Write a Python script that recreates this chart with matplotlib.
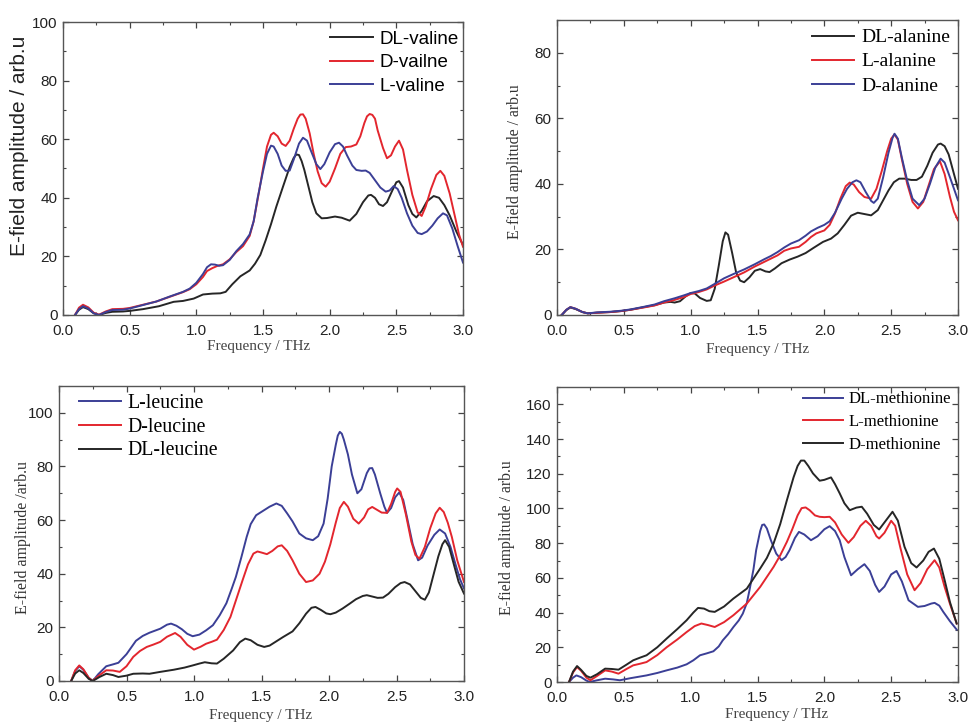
import matplotlib
matplotlib.use("Agg")
import matplotlib.pyplot as plt
from matplotlib.ticker import MultipleLocator, FormatStrFormatter

# ---------------- valine ----------------
valine_dl_f = [0.09, 0.12, 0.15, 0.19, 0.23, 0.27, 0.32, 0.37, 0.45, 0.5, 0.6, 0.72, 0.83, 0.9, 0.98,
               1.05, 1.12, 1.18, 1.22, 1.27, 1.33, 1.4, 1.44, 1.48, 1.52, 1.56, 1.6, 1.65, 1.7, 1.73,
               1.75, 1.77, 1.79, 1.81, 1.84, 1.87, 1.9, 1.94, 1.98, 2.04, 2.09, 2.15, 2.2, 2.25, 2.29,
               2.31, 2.34, 2.37, 2.4, 2.43, 2.47, 2.5, 2.52, 2.55, 2.59, 2.62, 2.65, 2.69, 2.73, 2.78,
               2.82, 2.86, 2.9, 2.95, 3.0]
valine_dl = [0, 1.8, 2.7, 2.0, 0.6, 0, 0.7, 1.1, 1.2, 1.4, 2.0, 3.0, 4.5, 4.8, 5.6,
             7.0, 7.3, 7.4, 7.9, 10.5, 13.2, 15.2, 17.5, 20.5, 25.5, 31, 37, 43.8, 50.5, 53.6,
             54.8, 54.6, 52.5, 49.5, 44, 38.5, 34.7, 33.0, 33.1, 33.6, 33.2, 32.2, 34.5, 38.5, 40.8,
             41, 40, 37.8, 37.2, 38.5, 42.5, 45.3, 45.7, 43.5, 37.5, 34.5, 33.3, 35.5, 38.8, 40.6,
             40, 37.5, 34, 28.5, 23.9]

valine_d_f = [0.09, 0.12, 0.15, 0.19, 0.23, 0.27, 0.32, 0.37, 0.45, 0.5, 0.6, 0.7, 0.8, 0.9, 0.95,
              1.0, 1.05, 1.08, 1.12, 1.16, 1.2, 1.25, 1.3, 1.35, 1.4, 1.43, 1.47, 1.5, 1.53, 1.56,
              1.58, 1.61, 1.64, 1.67, 1.7, 1.73, 1.76, 1.78, 1.8, 1.82, 1.85, 1.88, 1.91, 1.94, 1.97,
              2.0, 2.04, 2.08, 2.12, 2.16, 2.2, 2.23, 2.26, 2.28, 2.3, 2.32, 2.34, 2.36, 2.4, 2.43,
              2.46, 2.49, 2.52, 2.55, 2.58, 2.62, 2.66, 2.69, 2.72, 2.76, 2.8, 2.83, 2.86, 2.9, 2.94,
              2.97, 3.0]
valine_d = [0, 2.5, 3.5, 2.6, 0.8, 0.1, 1.2, 2.0, 2.1, 2.4, 3.5, 4.6, 6.2, 7.8, 8.8,
            10.5, 13.0, 15.0, 16.0, 16.8, 17.3, 19.0, 21.5, 23.5, 27, 32, 42, 50, 57.5, 61.5,
            62.2, 61, 58.5, 57.7, 59.5, 63.5, 67, 68.4, 68.5, 67, 62, 55, 49, 45, 43.8,
            45.5, 50, 55, 57.3, 57.5, 58.2, 61, 65.5, 67.8, 68.6, 68.3, 67, 63, 57, 53.5,
            54.5, 57.5, 59.5, 56.5, 49.5, 41, 35, 33.8, 37, 43, 47.8, 49.2, 47.5, 41.5, 33.5,
            27.5, 23.3]

valine_l_f = [0.09, 0.12, 0.15, 0.19, 0.23, 0.27, 0.32, 0.37, 0.45, 0.5, 0.6, 0.7, 0.8, 0.9, 0.95,
              1.0, 1.05, 1.08, 1.11, 1.14, 1.17, 1.2, 1.25, 1.3, 1.35, 1.4, 1.43, 1.46, 1.5, 1.53,
              1.56, 1.58, 1.61, 1.64, 1.67, 1.7, 1.73, 1.77, 1.8, 1.83, 1.86, 1.9, 1.93, 1.96, 2.0,
              2.04, 2.07, 2.1, 2.13, 2.17, 2.2, 2.24, 2.27, 2.3, 2.34, 2.38, 2.42, 2.45, 2.48, 2.51,
              2.54, 2.58, 2.62, 2.66, 2.69, 2.73, 2.77, 2.81, 2.85, 2.88, 2.92, 2.96, 3.0]
valine_l = [0, 2, 3.0, 2.2, 0.6, 0, 1.0, 1.7, 1.8, 2.2, 3.4, 4.6, 6.3, 7.9, 9.0,
            11, 14, 16.3, 17.3, 17.2, 16.8, 17.0, 18.8, 21.8, 24.2, 27.5, 32, 40, 49, 55,
            57.8, 57.5, 55, 51, 49.2, 49.3, 53, 58.5, 60.5, 59.5, 56, 51.5, 49.8, 51.5, 55.5,
            58.3, 58.8, 57.5, 54.5, 51, 49.5, 49.2, 49.3, 48.5, 46, 43.5, 42.1, 42.5, 44, 43,
            40, 34.7, 30.5, 28, 27.6, 28.5, 30.5, 33, 34.7, 34, 29.5, 23.5, 17.9]

# ---------------- alanine ----------------
alanine_dl_f = [0.035, 0.07, 0.1, 0.14, 0.19, 0.23, 0.3, 0.4, 0.48, 0.55, 0.65, 0.73, 0.8, 0.85, 0.88,
                0.92, 0.96, 1.0, 1.03, 1.07, 1.12, 1.15, 1.18, 1.21, 1.24, 1.26, 1.28, 1.31, 1.34, 1.37,
                1.4, 1.44, 1.48, 1.52, 1.56, 1.59, 1.63, 1.68, 1.74, 1.8, 1.86, 1.92, 1.99, 2.05, 2.1,
                2.15, 2.2, 2.25, 2.3, 2.35, 2.4, 2.44, 2.48, 2.52, 2.56, 2.6, 2.65, 2.69, 2.73, 2.77,
                2.81, 2.85, 2.87, 2.9, 2.93, 2.96, 3.0]
alanine_dl = [0, 1.5, 2.3, 1.8, 0.9, 0.5, 0.7, 0.9, 1.2, 1.6, 2.4, 3.0, 3.8, 4.0, 3.8,
              4.2, 5.6, 6.7, 6.6, 5.2, 4.3, 4.5, 8, 15, 22.5, 25.2, 24.5, 19, 13, 10.5,
              10, 11.5, 13.5, 14.0, 13.3, 13.1, 14.2, 15.8, 16.9, 17.8, 18.9, 20.5, 22.3, 23.3, 24.9,
              27.5, 30.3, 31.2, 30.8, 30.4, 32, 35, 38, 40.5, 41.6, 41.6, 41.2, 41.2, 42.2, 45.5,
              49.5, 52, 52.3, 51.5, 49, 44.5, 38.5]

alanine_l_f = [0.035, 0.07, 0.1, 0.14, 0.19, 0.23, 0.3, 0.4, 0.48, 0.55, 0.65, 0.73, 0.8, 0.88, 0.95,
               1.0, 1.06, 1.12, 1.18, 1.25, 1.32, 1.4, 1.48, 1.55, 1.6, 1.65, 1.7, 1.75, 1.81, 1.86,
               1.9, 1.94, 2.0, 2.04, 2.08, 2.12, 2.16, 2.19, 2.22, 2.26, 2.3, 2.35, 2.39, 2.43, 2.47,
               2.5, 2.525, 2.55, 2.58, 2.62, 2.66, 2.7, 2.74, 2.78, 2.82, 2.865, 2.9, 2.94, 2.97, 3.0]
alanine_l = [0, 1.6, 2.4, 1.9, 0.9, 0.5, 0.7, 0.9, 1.2, 1.6, 2.3, 2.9, 3.8, 4.6, 5.5,
             6.4, 7.0, 7.8, 9.0, 10.2, 11.5, 13.0, 14.8, 16.2, 17.2, 18.2, 19.6, 20.3, 20.8, 22.3,
             23.8, 24.9, 25.8, 27.5, 31, 35.5, 39.3, 40.4, 39.8, 37.5, 36, 35.5, 38.5, 44, 50,
             53.8, 55.1, 53.5, 47.5, 40, 34.5, 32.5, 34.5, 39.5, 44.5, 46.9, 43, 36, 31.5, 28.9]

alanine_d_f = [0.035, 0.07, 0.1, 0.14, 0.19, 0.23, 0.3, 0.4, 0.48, 0.55, 0.65, 0.73, 0.8, 0.88, 0.95,
               1.0, 1.06, 1.12, 1.18, 1.25, 1.32, 1.4, 1.48, 1.55, 1.6, 1.65, 1.7, 1.75, 1.81, 1.86,
               1.9, 1.95, 2.0, 2.04, 2.08, 2.13, 2.17, 2.21, 2.24, 2.27, 2.31, 2.35, 2.37, 2.4, 2.44,
               2.48, 2.51, 2.525, 2.55, 2.58, 2.62, 2.66, 2.71, 2.75, 2.79, 2.83, 2.87, 2.9, 2.94, 2.97,
               3.0]
alanine_d = [0, 1.6, 2.4, 1.9, 0.9, 0.5, 0.8, 1.0, 1.3, 1.7, 2.5, 3.2, 4.2, 5.1, 6.0,
             6.7, 7.3, 8.1, 9.5, 11.2, 12.5, 13.9, 15.5, 17.0, 18.0, 19.2, 20.6, 21.8, 22.8, 24.2,
             25.5, 26.6, 27.5, 28.6, 31.2, 35.5, 38.5, 40.5, 41.1, 40.5, 37.5, 34.8, 34.2, 35.5, 42,
             49.5, 54, 55.3, 53.8, 48, 41, 35.5, 33.5, 35.5, 40, 45, 47.7, 46.5, 42, 38.5,
             35]

# ---------------- leucine ----------------
leucine_l_f = [0.09, 0.12, 0.15, 0.18, 0.22, 0.25, 0.29, 0.35, 0.4, 0.44, 0.5, 0.57, 0.62, 0.67, 0.75,
               0.8, 0.83, 0.87, 0.91, 0.95, 0.99, 1.04, 1.09, 1.14, 1.19, 1.24, 1.28, 1.31, 1.35, 1.39,
               1.42, 1.46, 1.51, 1.56, 1.61, 1.65, 1.69, 1.73, 1.78, 1.83, 1.88, 1.92, 1.96, 1.99, 2.02,
               2.05, 2.065, 2.08, 2.095, 2.11, 2.14, 2.17, 2.21, 2.24, 2.28, 2.3, 2.32, 2.34, 2.38, 2.41,
               2.43, 2.46, 2.49, 2.52, 2.55, 2.58, 2.62, 2.66, 2.69, 2.73, 2.78, 2.82, 2.86, 2.9, 2.94,
               2.97, 3.0]
leucine_l = [0, 3.8, 5.5, 4.2, 1.2, 0, 2.5, 5.5, 6.2, 6.8, 10, 15, 16.8, 18, 19.5,
             21.0, 21.4, 20.6, 19.3, 17.6, 16.7, 17.3, 18.9, 20.8, 24.5, 29, 34.5, 38.8, 46, 53.7,
             58.5, 61.8, 63.4, 65, 66.2, 65.3, 62.5, 59.5, 55, 53.2, 52.5, 54, 58.7, 68, 80,
             88, 91.5, 92.9, 92.2, 90, 84.5, 77, 70, 71.5, 77.5, 79.3, 79.4, 77, 69.9, 65,
             62.7, 64.5, 68.5, 70.3, 67.5, 60.5, 51, 45, 46, 50.5, 54.5, 56.5, 55, 50, 43,
             38, 34.5]

leucine_d_f = [0.09, 0.12, 0.15, 0.18, 0.22, 0.25, 0.29, 0.35, 0.4, 0.45, 0.5, 0.55, 0.6, 0.65, 0.7,
               0.75, 0.8, 0.86, 0.9, 0.95, 1.0, 1.05, 1.09, 1.13, 1.17, 1.22, 1.27, 1.31, 1.36, 1.4,
               1.44, 1.47, 1.5, 1.54, 1.58, 1.62, 1.65, 1.69, 1.73, 1.78, 1.83, 1.88, 1.93, 1.97, 2.01,
               2.05, 2.08, 2.11, 2.14, 2.18, 2.22, 2.26, 2.29, 2.32, 2.35, 2.39, 2.43, 2.46, 2.49, 2.505,
               2.53, 2.57, 2.61, 2.64, 2.67, 2.71, 2.75, 2.79, 2.82, 2.85, 2.88, 2.91, 2.95, 3.0]
leucine_d = [0, 4, 5.8, 4.4, 1.2, 0, 1.8, 4, 3.9, 3.4, 5.5, 9, 11.2, 12.7, 13.6,
             14.6, 16.5, 17.9, 16.5, 13.5, 11.7, 12.8, 13.9, 14.6, 15.4, 19, 23.9, 30, 37.6, 43.5,
             47.5, 48.3, 47.9, 47.3, 48.5, 50.2, 50.6, 48.5, 45, 40, 36.9, 37.5, 40, 44.5, 51,
             59, 64.5, 66.8, 65, 60.5, 58.7, 61, 64, 64.9, 64, 62.8, 62.7, 66, 70.5, 71.8,
             70.5, 62, 52, 47, 45.6, 50, 57, 62.5, 64.6, 63, 59, 53.7, 45, 36.9]

leucine_dl_f = [0.09, 0.12, 0.15, 0.18, 0.22, 0.25, 0.3, 0.35, 0.4, 0.44, 0.5, 0.55, 0.62, 0.67, 0.75,
                0.85, 0.93, 0.99, 1.04, 1.08, 1.13, 1.17, 1.22, 1.29, 1.34, 1.38, 1.42, 1.47, 1.52, 1.56,
                1.61, 1.66, 1.73, 1.78, 1.83, 1.87, 1.9, 1.94, 1.98, 2.01, 2.05, 2.1, 2.155, 2.2, 2.25,
                2.28, 2.32, 2.36, 2.4, 2.44, 2.49, 2.53, 2.56, 2.6, 2.64, 2.68, 2.71, 2.74, 2.77, 2.81,
                2.84, 2.86, 2.89, 2.93, 2.96, 3.0]
leucine_dl = [0, 2.8, 4, 3.0, 0.8, 0, 1.5, 2.7, 2.2, 1.5, 2.0, 2.7, 2.8, 2.7, 3.4,
              4.2, 5.0, 5.8, 6.5, 7.0, 6.6, 6.5, 8.3, 11.4, 14.5, 15.8, 15.2, 13.5, 12.7, 13.2,
              14.8, 16.4, 18.5, 21.5, 25.1, 27.3, 27.6, 26.5, 25.2, 24.9, 25.5, 27, 28.9, 30.5, 31.7,
              32, 31.5, 31.0, 31.1, 32.5, 35, 36.5, 36.9, 36, 33.5, 31, 30.3, 33, 38.8, 46.5,
              51, 52.5, 50, 42.5, 37, 32.6]

# ---------------- methionine ----------------
methionine_dl_f = [0.09, 0.12, 0.145, 0.18, 0.22, 0.245, 0.3, 0.36, 0.42, 0.47, 0.55, 0.67, 0.75, 0.82, 0.9,
                   0.97, 1.02, 1.07, 1.12, 1.17, 1.21, 1.24, 1.28, 1.32, 1.36, 1.39, 1.42, 1.44, 1.47, 1.49,
                   1.52, 1.535, 1.55, 1.57, 1.6, 1.64, 1.68, 1.71, 1.74, 1.78, 1.81, 1.85, 1.9, 1.95, 2.0,
                   2.04, 2.08, 2.115, 2.15, 2.2, 2.25, 2.3, 2.34, 2.38, 2.41, 2.45, 2.5, 2.54, 2.58, 2.63,
                   2.7, 2.75, 2.8, 2.825, 2.86, 2.89, 2.94, 2.99]
methionine_dl = [0, 2.5, 3.8, 2.8, 0.8, 0, 1.0, 1.9, 1.5, 1.0, 2.2, 3.8, 5.2, 6.7, 8.3,
                 10.2, 12.5, 15.4, 16.5, 17.7, 20.5, 24, 27.5, 31.7, 35.5, 39.4, 45.5, 52.9, 65, 76,
                 87, 90.5, 90.8, 88.5, 81.7, 74, 70.2, 72, 76, 83, 86.5, 85, 81.7, 84, 88,
                 89.8, 87, 81.7, 72, 61.5, 65, 67.9, 64, 56, 51.9, 55, 62, 64, 58, 47.1,
                 43.3, 43.8, 45.2, 45.6, 44, 40.4, 35, 30.2]

methionine_l_f = [0.09, 0.12, 0.15, 0.18, 0.22, 0.25, 0.3, 0.36, 0.41, 0.46, 0.52, 0.57, 0.62, 0.67, 0.75,
                  0.82, 0.9, 0.97, 1.03, 1.08, 1.13, 1.18, 1.25, 1.32, 1.42, 1.52, 1.62, 1.67, 1.72, 1.76,
                  1.8, 1.83, 1.86, 1.89, 1.93, 1.965, 2.0, 2.04, 2.08, 2.13, 2.18, 2.22, 2.27, 2.31, 2.35,
                  2.39, 2.41, 2.45, 2.5, 2.53, 2.57, 2.62, 2.675, 2.72, 2.77, 2.825, 2.86, 2.9, 2.94, 2.99]
methionine_l = [0, 5.5, 8.6, 6.5, 2.5, 1.0, 3.5, 6.7, 6.0, 4.8, 7.5, 9.6, 10.5, 11.5, 15.5,
                20, 24.5, 28.8, 32.2, 33.7, 32.8, 31.7, 34.5, 38.5, 45.2, 54.8, 66.3, 73, 80.8, 88,
                96, 100.2, 100.6, 99, 96, 95.2, 95, 95.2, 92, 85, 80.2, 83.5, 90, 92.9, 90,
                84, 82.7, 86, 92.9, 90, 77, 62, 52.9, 57, 65, 70.2, 66, 54.8, 45, 33.7]

methionine_d_f = [0.09, 0.12, 0.15, 0.18, 0.22, 0.25, 0.3, 0.36, 0.41, 0.46, 0.52, 0.57, 0.62, 0.67, 0.75,
                  0.82, 0.9, 0.97, 1.02, 1.055, 1.1, 1.14, 1.18, 1.25, 1.32, 1.42, 1.52, 1.57, 1.62, 1.67,
                  1.72, 1.77, 1.8, 1.825, 1.85, 1.88, 1.915, 1.965, 2.0, 2.05, 2.08, 2.115, 2.15, 2.19, 2.24,
                  2.28, 2.32, 2.37, 2.41, 2.46, 2.51, 2.55, 2.6, 2.65, 2.69, 2.74, 2.78, 2.82, 2.86, 2.9,
                  2.94, 2.99]
methionine_d = [0, 6, 9.2, 7.0, 3.5, 2.5, 4.5, 7.7, 7.5, 7.1, 10, 12.5, 14, 15.4, 20,
                25, 30.5, 35.6, 40, 42.7, 42.3, 40.8, 40.4, 43.5, 48.1, 53.8, 65.4, 71.5, 79.8, 91,
                104.8, 118, 124.5, 127.6, 127.6, 124.5, 120.2, 116, 116.5, 117.9, 114, 108.7, 103, 99, 100.5,
                101, 97, 90.5, 87.9, 93, 98.1, 93, 77.9, 68.5, 66, 70, 75, 76.9, 71, 58.7,
                46, 33.7]

BLACK = "#262626"
RED = "#e3262e"
BLUE = "#3b3f96"

SANS = ["Liberation Sans", "DejaVu Sans"]
SERIF = ["Liberation Serif", "DejaVu Serif"]

W, H = 969, 722
fig = plt.figure(figsize=(W / 100, H / 100), dpi=100)


def px_axes(left, top, right, bottom):
    return fig.add_axes([left / W, 1 - bottom / H, (right - left) / W, (bottom - top) / H])


def style(ax, ymax, ymajor, yminor):
    ax.set_xlim(0, 3.0)
    ax.set_ylim(0, ymax)
    ax.xaxis.set_major_locator(MultipleLocator(0.5))
    ax.xaxis.set_minor_locator(MultipleLocator(0.25))
    ax.yaxis.set_major_locator(MultipleLocator(ymajor))
    ax.yaxis.set_minor_locator(MultipleLocator(yminor))
    ax.xaxis.set_major_formatter(FormatStrFormatter("%.1f"))
    ax.yaxis.set_major_formatter(FormatStrFormatter("%d"))
    ax.tick_params(which="both", direction="in", top=True, right=True, colors="#444444",
                   labelcolor="#222222")
    ax.tick_params(which="major", length=4.5, width=0.9, labelsize=11)
    ax.tick_params(axis="x", which="major", pad=6.5)
    ax.tick_params(axis="y", which="major", pad=4)
    ax.tick_params(which="minor", length=2.5, width=0.8)
    for lab in ax.get_xticklabels() + ax.get_yticklabels():
        lab.set_family(SANS)
    for s in ax.spines.values():
        s.set_color("#555555")
        s.set_linewidth(1.0)


def xlabel(ax, xc, yc):
    ax.set_xlabel("Frequency / THz", family=SERIF, fontsize=11, color="#444444", va="top")
    ax.xaxis.set_label_coords(xc, yc)


LW = 1.4

# Valine
ax1 = px_axes(63, 22, 463, 315)
ax1.plot(valine_dl_f, valine_dl, color=BLACK, lw=LW, label="DL-valine")
ax1.plot(valine_d_f, valine_d, color=RED, lw=LW, label="D-vailne")
ax1.plot(valine_l_f, valine_l, color=BLUE, lw=LW, label="L-valine")
style(ax1, 100, 20, 10)
ax1.set_ylabel("E-field amplitude / arb.u", family=SANS, fontsize=15, color="#222222")
ax1.yaxis.set_label_coords(-0.085, 0.577)
xlabel(ax1, 0.488, -0.085)
ax1.legend(loc="upper left", bbox_to_anchor=(0.668, 0.97), frameon=False, borderpad=0,
           borderaxespad=0, handlelength=2.3, handletextpad=0.35, labelspacing=0.33,
           prop={"family": SANS, "size": 13.5})

# Alanine
ax2 = px_axes(557, 20, 958, 315)
ax2.plot(alanine_dl_f, alanine_dl, color=BLACK, lw=LW, label="DL-alanine")
ax2.plot(alanine_l_f, alanine_l, color=RED, lw=LW, label="L-alanine")
ax2.plot(alanine_d_f, alanine_d, color=BLUE, lw=LW, label="D-alanine")
style(ax2, 90, 20, 10)
ax2.set_ylabel("E-field amplitude / arb.u", family=SERIF, fontsize=11.3, color="#333333")
ax2.yaxis.set_label_coords(-0.085, 0.519)
xlabel(ax2, 0.5, -0.095)
ax2.legend(loc="upper left", bbox_to_anchor=(0.635, 0.97), frameon=False, borderpad=0,
           borderaxespad=0, handlelength=2.2, handletextpad=0.35, labelspacing=0.33,
           prop={"family": SERIF, "size": 14})

# Leucine
ax3 = px_axes(59, 386, 464, 681)
ax3.plot(leucine_l_f, leucine_l, color=BLUE, lw=LW, label="L-leucine")
ax3.plot(leucine_d_f, leucine_d, color=RED, lw=LW, label="D-leucine")
ax3.plot(leucine_dl_f, leucine_dl, color=BLACK, lw=LW, label="DL-leucine")
style(ax3, 110, 20, 10)
ax3.set_ylabel("E-field amplitude /arb.u", family=SERIF, fontsize=11.5, color="#333333")
ax3.yaxis.set_label_coords(-0.07, 0.488)
xlabel(ax3, 0.498, -0.095)
ax3.legend(loc="upper left", bbox_to_anchor=(0.05, 0.973), frameon=False, borderpad=0,
           borderaxespad=0, handlelength=2.1, handletextpad=0.35, labelspacing=0.24,
           prop={"family": SERIF, "size": 14.3})

# Methionine
ax4 = px_axes(557, 387, 958, 682)
ax4.plot(methionine_dl_f, methionine_dl, color=BLUE, lw=LW, label="DL-methionine")
ax4.plot(methionine_l_f, methionine_l, color=RED, lw=LW, label="L-methionine")
ax4.plot(methionine_d_f, methionine_d, color=BLACK, lw=LW, label="D-methionine")
style(ax4, 170, 20, 10)
ax4.set_ylabel("E-field amplitude / arb.u", family=SERIF, fontsize=11.3, color="#333333")
ax4.yaxis.set_label_coords(-0.105, 0.49)
xlabel(ax4, 0.548, -0.088)
ax4.legend(loc="upper left", bbox_to_anchor=(0.613, 0.985), frameon=False, borderpad=0,
           borderaxespad=0, handlelength=2.4, handletextpad=0.35, labelspacing=0.4,
           prop={"family": SERIF, "size": 12})

fig.savefig("out.png", dpi=100)
